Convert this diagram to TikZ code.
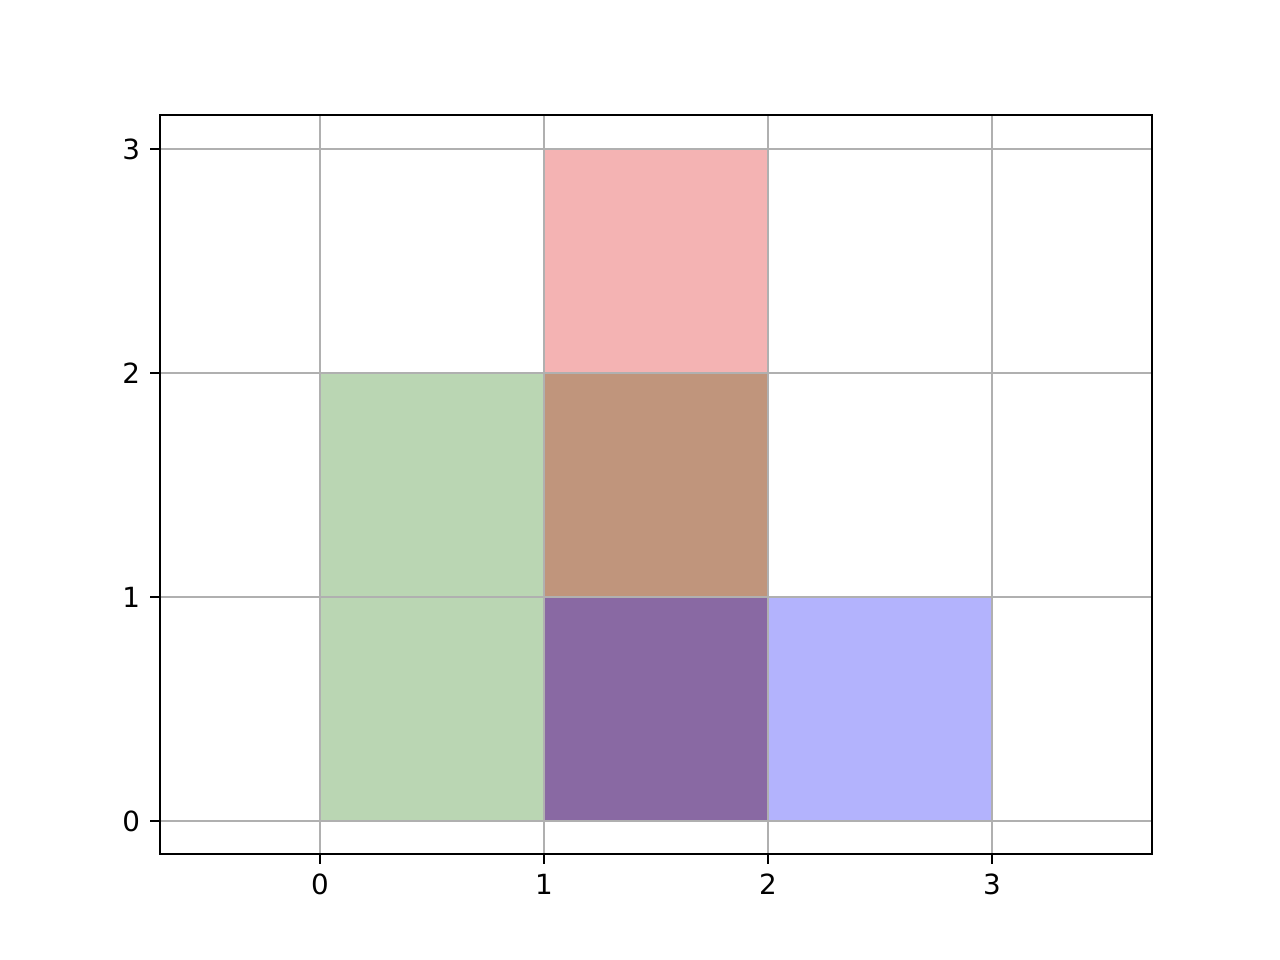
\documentclass[tikz,border=0pt]{standalone}
\usepackage{fontspec}
\setmainfont{DejaVu Sans}
\definecolor{cred}{RGB}{244,179,179}
\definecolor{cbrown}{RGB}{192,149,124}
\definecolor{cgreen}{RGB}{186,214,179}
\definecolor{cpurple}{RGB}{137,105,163}
\definecolor{cblue}{RGB}{179,179,253}
\definecolor{gridc}{RGB}{176,176,176}
\tikzset{
  gridline/.style={draw=gridc, line width=0.8pt},
  spine/.style={draw=black, line width=0.8pt, line join=miter},
  tickmark/.style={draw=black, line width=0.8pt},
  ticklabel/.style={font=\fontsize{10}{12}\selectfont, inner sep=0pt}
}
\begin{document}
\begin{tikzpicture}[x=80.64pt,y=80.64pt]
\useasboundingbox (-1.428571,-0.620536) rectangle (4.285714,3.665179);
% patches
\fill[cgreen] (0,0) rectangle (1,2);
\fill[cred] (1,2) rectangle (2,3);
\fill[cbrown] (1,1) rectangle (2,2);
\fill[cpurple] (1,0) rectangle (2,1);
\fill[cblue] (2,0) rectangle (3,1);
% grid
\foreach \i in {0,1,2,3} {
  \draw[gridline] (\i,-0.147321) -- (\i,3.151786);
  \draw[gridline] (-0.714286,\i) -- (3.714286,\i);
}
% spines
\draw[spine] (-0.714286,-0.147321) rectangle (3.714286,3.151786);
% ticks and labels
\foreach \i in {0,1,2,3} {
  \draw[tickmark] (\i,-0.147321) -- ++(0,-0.0434);
  \node[ticklabel, anchor=north] (xl\i) at (\i,-0.2340) {\i};
  \draw[tickmark] (-0.714286,\i) -- ++(-0.0434,0);
  \node[ticklabel, anchor=east] (yl\i) at (-0.8009,\i) {\i};
}
\end{tikzpicture}
\end{document}
